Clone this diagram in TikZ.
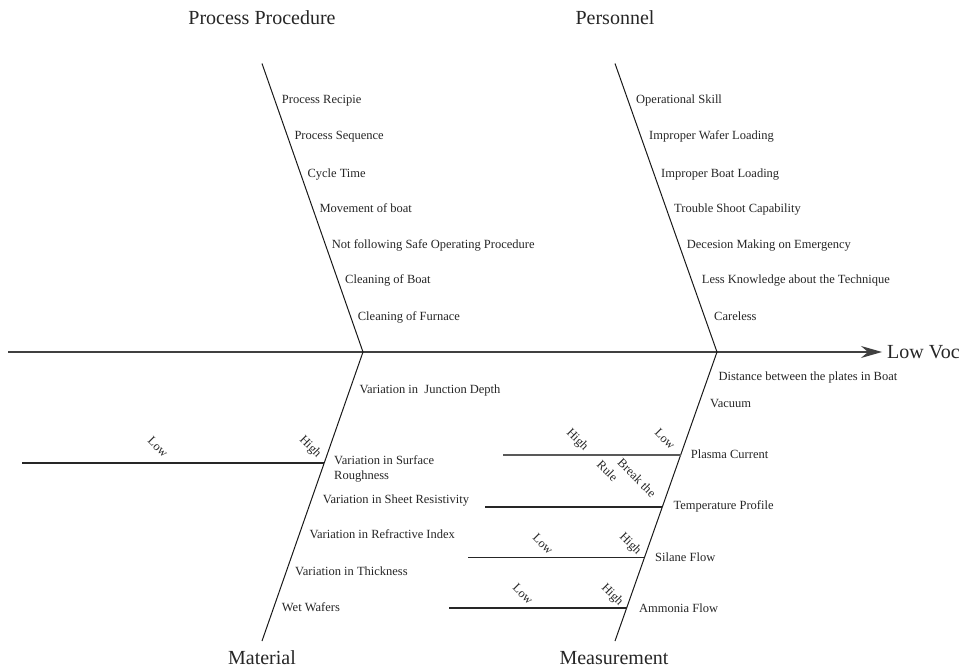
\documentclass[tikz,border=0pt]{standalone}
\usepackage{fontspec}
\setmainfont{Liberation Serif}
\usetikzlibrary{arrows.meta}
\begin{document}
\begin{tikzpicture}[x=1pt,y=-1pt,
  cause/.style={inner sep=0pt, anchor=base west, yshift=-4pt, font=\fontsize{12.5}{14}\selectfont, text=black!85},
  cat/.style={inner sep=0pt, anchor=base, font=\fontsize{20}{24}\selectfont, text=black!85},
  lvl/.style={inner sep=0pt, rotate=-45, font=\fontsize{12.5}{14}\selectfont, text=black!85},
  bone/.style={line width=1pt, black!90},
  spine/.style={line width=1.4pt, black!75},
  subline/.style={line width=1.1pt, black!85},
  thicksub/.style={line width=1.6pt, black!65},
]
\useasboundingbox (0,0) rectangle (969,668);

% key points
\coordinate (sL) at (8,352);
\coordinate (tip) at (882,352);
\coordinate (hubA) at (363,352);
\coordinate (hubB) at (717,352);
\coordinate (ppTop) at (262,63.5);
\coordinate (peTop) at (615,63.5);
\coordinate (maBot) at (262,641);
\coordinate (meBot) at (615,641);

% spine and bones
\draw[spine,-{Stealth[length=21pt,width=12pt,inset=7pt]}] (sL) -- (tip);
\draw[bone] (ppTop) -- (hubA) -- (maBot);
\draw[bone] (peTop) -- (hubB) -- (meBot);

% sub-lines
\coordinate (maL) at (22,463);    \coordinate (maR) at (324.2,463);
\coordinate (plL) at (503,455);   \coordinate (plR) at (680.6,455);
\coordinate (teL) at (485,507);   \coordinate (teR) at (662.3,507);
\coordinate (siL) at (468,557.7); \coordinate (siR) at (644.4,557.7);
\coordinate (amL) at (449,608);   \coordinate (amR) at (626.6,608);
\draw[subline] (maL) -- (maR);
\draw[thicksub] (plL) -- (plR);
\draw[subline] (teL) -- (teR);
\draw[subline] (siL) -- (siR);
\draw[subline] (amL) -- (amR);

% rotated level labels
\node[lvl] (maLow) at (158,447) {Low};
\node[lvl] (maHigh) at (310,447) {High};
\node[lvl] (plHigh) at (577,440) {High};
\node[lvl] (plLow) at (665,439) {Low};
\node[lvl] (plRule) at (607.5,471) {Rule};
\node[lvl] (plBreak) at (637,478) {Break the};
\node[lvl] (siLow) at (543,544) {Low};
\node[lvl] (siHigh) at (630,544) {High};
\node[lvl] (amLow) at (523,594) {Low};
\node[lvl] (amHigh) at (612,595) {High};

% category titles
\node[cat] (tPP) at (262,25) {Process Procedure};
\node[cat] (tPE) at (615,25) {Personnel};
\node[cat] (tMA) at (262,664.5) {Material};
\node[cat] (tME) at (614,664.5) {Measurement};
\node[inner sep=0pt, anchor=base west, font=\fontsize{20}{24}\selectfont, text=black!85] (effect) at (887,358) {Low Voc};

% Process Procedure causes
\node[cause] (p1) at (281.7,99.3) {Process Recipie};
\node[cause] (p2) at (294.3,135.7) {Process Sequence};
\node[cause] (p3) at (307.3,173.3) {Cycle Time};
\node[cause] (p4) at (319.3,209) {Movement of boat};
\node[cause] (p5) at (331.7,244.3) {Not following Safe Operating Procedure};
\node[cause] (p6) at (345,280) {Cleaning of Boat};
\node[cause] (p7) at (357.7,316.7) {Cleaning of Furnace};

% Personnel causes
\node[cause] (e1) at (636,99.3) {Operational Skill};
\node[cause] (e2) at (649,135.7) {Improper Wafer Loading};
\node[cause] (e3) at (661,173.3) {Improper Boat Loading};
\node[cause] (e4) at (674,209) {Trouble Shoot Capability};
\node[cause] (e5) at (686.7,244.3) {Decesion Making on Emergency};
\node[cause] (e6) at (701.7,280) {Less Knowledge about the Technique};
\node[cause] (e7) at (714,316.7) {Careless};

% Material causes
\node[cause] (m1) at (359.3,389) {Variation in\ \ Junction Depth};
\node[cause] (m2a) at (334,460.7) {Variation in Surface};
\node[cause] (m2b) at (334,475) {Roughness};
\node[cause] (m3) at (322.7,499) {Variation in Sheet Resistivity};
\node[cause] (m4) at (309.3,534) {Variation in Refractive Index};
\node[cause] (m5) at (295,571.7) {Variation in Thickness};
\node[cause] (m6) at (281.7,607.7) {Wet\ Wafers};

% Measurement causes
\node[cause] (s1) at (718.3,376.7) {Distance between the plates in Boat};
\node[cause] (s2) at (710,403.3) {Vacuum};
\node[cause] (s3) at (690.7,454) {Plasma Current};
\node[cause] (s4) at (673.3,505) {Temperature Profile};
\node[cause] (s5) at (655,557) {Silane Flow};
\node[cause] (s6) at (639,608) {Ammonia Flow};
\end{tikzpicture}
\end{document}
